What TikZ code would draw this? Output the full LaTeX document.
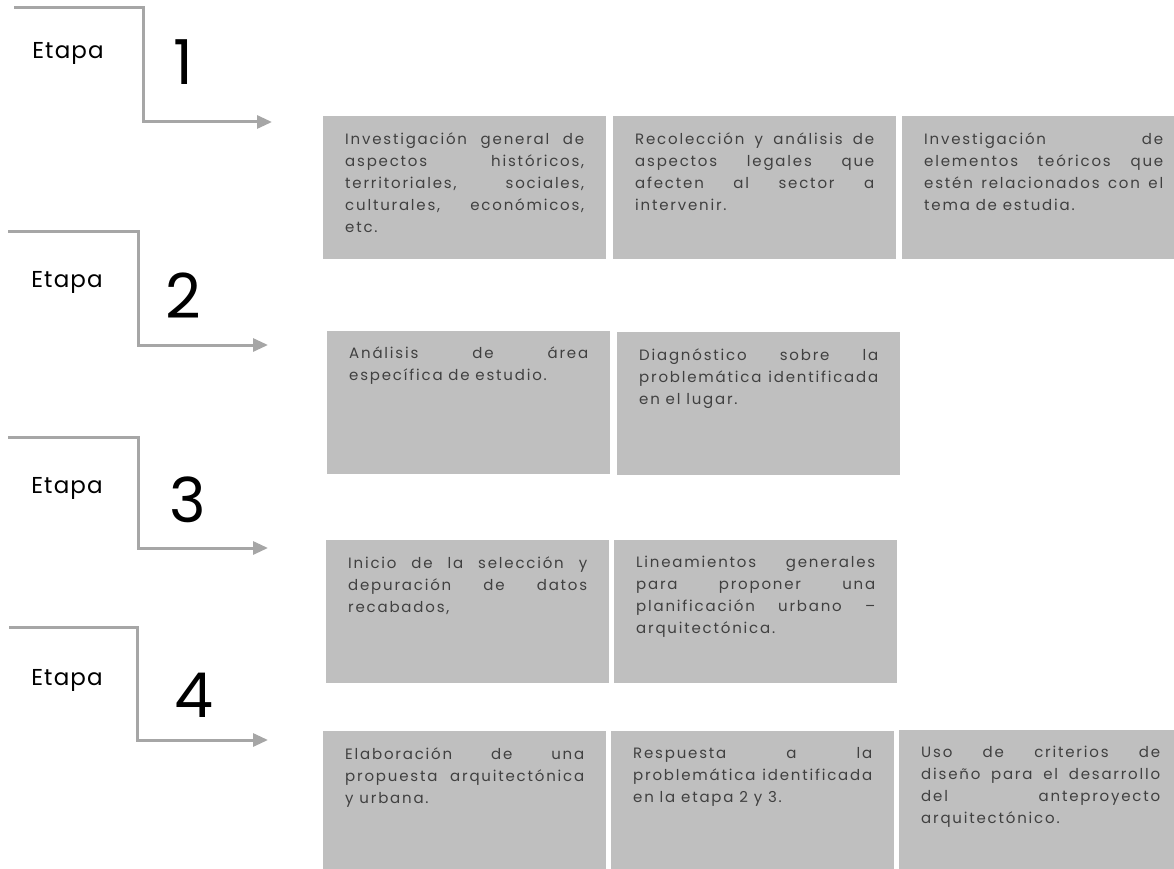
\documentclass[tikz,border=0pt]{standalone}
\usepackage{fontspec}
\usetikzlibrary{arrows.meta,positioning}

\setmainfont{Poppins}
\newfontfamily\cardfamily[LetterSpace=12]{Poppins}
\newfontfamily\etapafamily[LetterSpace=5]{Poppins}

\definecolor{linegray}{HTML}{A6A6A6}
\definecolor{cardgray}{HTML}{BFBFBF}
\definecolor{cardtext}{HTML}{404040}

% one justified line, and the text block of a card
\newcommand\jline[1]{\makebox[\linewidth][s]{#1}\par}
\newcommand\cardtext[1]{\parbox[t][111pt][t]{239pt}{%
    \parindent=0pt\parskip=0pt
    \fontsize{15}{22}\cardfamily\color{cardtext}#1}}

\begin{document}
\begin{tikzpicture}[x=1pt,y=-1pt,
    flow/.style={draw=linegray, line width=3pt, -{Triangle[length=15pt,width=13pt]}},
    card/.style={fill=cardgray, anchor=north west, minimum width=283pt,
        minimum height=143pt, inner xsep=22pt, inner ysep=16pt},
    etapa/.style={font=\fontsize{23}{25}\etapafamily},
    stagenum/.style={font=\fontsize{62}{64}\selectfont}]
    \useasboundingbox (0,0) rectangle (1174,869);

    % stage 1
    \coordinate (s1) at (14,8);
    \coordinate (k1) at (143,8);
    \coordinate (e1) at (272,122);
    \node[etapa] (et1) at (68,53) {Etapa};
    \node[stagenum] (n1) at (183,62) {1};
    \draw[flow] (s1) -- (k1) |- (e1);

    % stage 2
    \coordinate (s2) at (8,231);
    \coordinate (k2) at (138,231);
    \coordinate (e2) at (268,345);
    \node[etapa] (et2) at (67,282) {Etapa};
    \node[stagenum] (n2) at (183,296) {2};
    \draw[flow] (s2) -- (k2) |- (e2);

    % stage 3
    \coordinate (s3) at (8,437);
    \coordinate (k3) at (138,437);
    \coordinate (e3) at (268,548);
    \node[etapa] (et3) at (67,488) {Etapa};
    \node[stagenum] (n3) at (188,500) {3};
    \draw[flow] (s3) -- (k3) |- (e3);

    % stage 4
    \coordinate (s4) at (9,627);
    \coordinate (k4) at (137,627);
    \coordinate (e4) at (268,740);
    \node[etapa] (et4) at (67,680) {Etapa};
    \node[stagenum] (n4) at (194,695) {4};
    \draw[flow] (s4) -- (k4) |- (e4);

    % cards, stage 1
    \node[card] (c11) at (323,116) {\cardtext{%
        \jline{Investigación general de}
        \jline{aspectos históricos,}
        \jline{territoriales, sociales,}
        \jline{culturales, económicos,}
        etc.}};
    \node[card] (c12) at (613,116) {\cardtext{%
        \jline{Recolección y análisis de}
        \jline{aspectos legales que}
        \jline{afecten al sector a}
        intervenir.}};
    \node[card] (c13) at (902,116) {\cardtext{%
        \jline{Investigación de}
        \jline{elementos teóricos que}
        \jline{estén relacionados con el}
        tema de estudia.}};

    % cards, stage 2
    \node[card] (c21) at (327,331) {\cardtext{%
        \jline{Análisis de área}
        específica de estudio.}};
    \node[card] (c22) at (617,332) {\cardtext{%
        \jline{Diagnóstico sobre la}
        \jline{problemática identificada}
        en el lugar.}};

    % cards, stage 3
    \node[card] (c31) at (326,540) {\cardtext{%
        \jline{Inicio de la selección y}
        \jline{depuración de datos}
        recabados,}};
    \node[card] (c32) at (614,540) {\cardtext{%
        \jline{Lineamientos generales}
        \jline{para proponer una}
        \jline{planificación urbano –}
        arquitectónica.}};

    % cards, stage 4
    \node[card] (c41) at (323,731) {\cardtext{%
        \jline{Elaboración de una}
        \jline{propuesta arquitectónica}
        y urbana.}};
    \node[card] (c42) at (611,731) {\cardtext{%
        \jline{Respuesta a la}
        \jline{problemática identificada}
        en la etapa 2 y 3.}};
    \node[card] (c43) at (899,730) {\cardtext{%
        \jline{Uso de criterios de}
        \jline{diseño para el desarrollo}
        \jline{del anteproyecto}
        arquitectónico.}};
\end{tikzpicture}
\end{document}
